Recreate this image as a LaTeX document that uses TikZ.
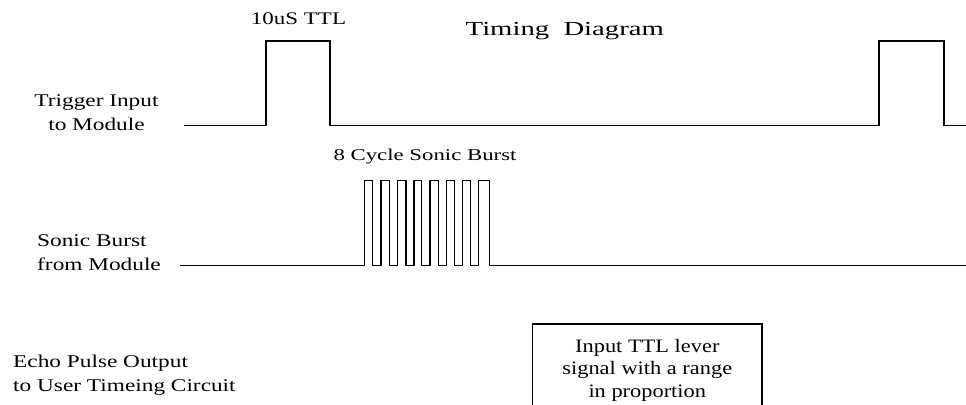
\documentclass[tikz,border=0pt]{standalone}
\usepackage{fontspec}
\usepackage{tikz}
\usetikzlibrary{positioning}
\setmainfont{Liberation Serif}
\newfontfamily\labelfont[FakeStretch=1.3]{Liberation Serif}
\newfontfamily\titlefont[FakeStretch=1.44]{Liberation Serif}
\newfontfamily\burstfont[FakeStretch=1.38]{Liberation Serif}
\newfontfamily\notefont[FakeStretch=1.18]{Liberation Serif}

\begin{document}
\begin{tikzpicture}[
  x=0.03cm,y=-0.03cm,
  signal/.style={draw=black,line width=1.3pt,line join=miter},
  signame/.style={inner sep=0pt,font=\labelfont\fontsize{15.3pt}{20.5pt}\selectfont},
  notebox/.style={draw=black,line width=0.9pt,minimum width=229.4*0.03cm,minimum height=4cm,anchor=north,inner sep=0pt},
  notetext/.style={inner sep=0pt,align=center,anchor=north,font=\notefont\fontsize{16.2pt}{19.5pt}\selectfont}
]
\clip (0,0) rectangle (966,405);
\fill[white] (0,0) rectangle (966,405);

% headings
\node[inner sep=0pt,anchor=base,font=\titlefont\fontsize{17pt}{20pt}\selectfont] (title) at (564.8,36) {Timing\ \ Diagram};
\node[inner sep=0pt,anchor=base,font=\labelfont\fontsize{15.1pt}{18pt}\selectfont] (ttl) at (298.5,25) {10uS TTL};
\node[inner sep=0pt,anchor=base,font=\burstfont\fontsize{14.1pt}{18pt}\selectfont] (burst) at (425,161) {8 Cycle Sonic Burst};

% signal names
\node[signame,align=center,anchor=north] (trigger) at (96.5,94) {Trigger Input\\to Module};
\node[signame,align=left,anchor=north west] (sonic) at (37,234) {Sonic Burst\\from Module};
\node[signame,align=left,anchor=north west] (echo) at (13,354.5) {Echo Pulse Output\\to User Timeing Circuit};

% trigger input
\draw[signal] (184,125.5) -- (266,125.5) -- (266,41) -- (330,41) -- (330,125.5)
  -- (879,125.5) -- (879,41) -- (944,41) -- (944,125.5) -- (966,125.5);

% sonic burst
\draw[signal] (180,265.7)
  \foreach \r/\f in {364.3/372.7,381/389.3,397.7/406,414/421.7,430/438.3,446.7/454.3,462.7/470.7,478.3/489.3}{
    -- (\r,265.7) -- (\r,180.7) -- (\f,180.7) -- (\f,265.7)}
  -- (966,265.7);

% echo note
\node[notebox] (note) at (647.3,323.5) {};
\node[notetext] (notetxt) at (647.3,338.7) {Input TTL lever\\signal with a range\\in proportion};
\end{tikzpicture}
\end{document}
